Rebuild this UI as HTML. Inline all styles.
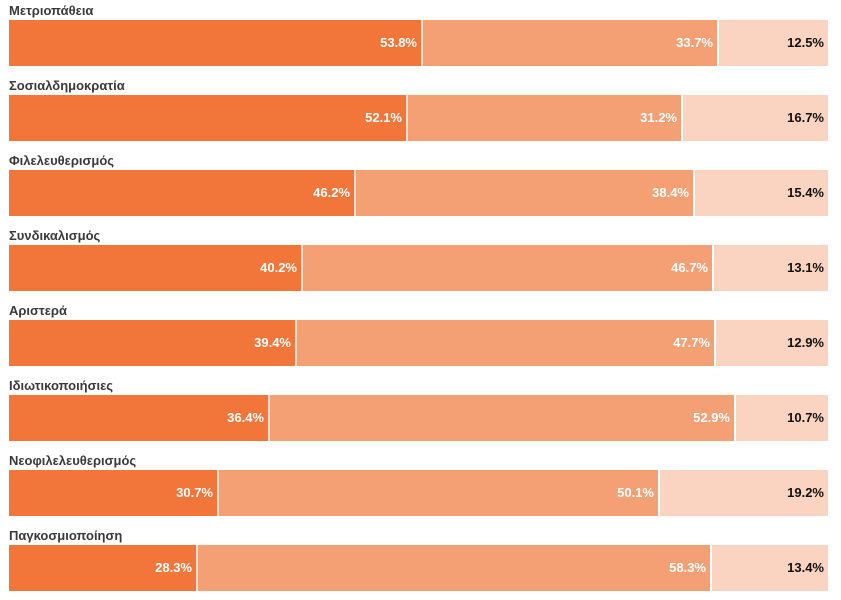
<!DOCTYPE html>
<html><head><meta charset="utf-8"><style>
body{margin:0;width:841px;height:600px;background:#fff;position:relative;overflow:hidden;font-family:"Liberation Sans","DejaVu Sans",sans-serif;}
.l{position:absolute;left:9px;font-size:13px;font-weight:bold;color:#3a3a3a;}
.s{position:absolute;height:46px;box-sizing:border-box;font-size:13px;font-weight:bold;text-align:right;padding-right:4px;line-height:46px;}
.a{background:#f2763a;color:#fff;}
.b{background:#f59f74;color:#fff;border-left:2px solid #fbe0d2;}
.c{background:#fad4c0;color:#111;border-left:2px solid #fff;}
</style></head><body>
<div class="l" style="top:3px">Μετριοπάθεια</div>
<div class="s a" style="top:20px;left:9px;width:412px">53.8%</div>
<div class="s b" style="top:20px;left:421px;width:296px">33.7%</div>
<div class="s c" style="top:20px;left:717px;width:111px">12.5%</div>

<div class="l" style="top:78px">Σοσιαλδημοκρατία</div>
<div class="s a" style="top:95px;left:9px;width:397px">52.1%</div>
<div class="s b" style="top:95px;left:406px;width:275px">31.2%</div>
<div class="s c" style="top:95px;left:681px;width:147px">16.7%</div>

<div class="l" style="top:153px">Φιλελευθερισμός</div>
<div class="s a" style="top:170px;left:9px;width:345px">46.2%</div>
<div class="s b" style="top:170px;left:354px;width:339px">38.4%</div>
<div class="s c" style="top:170px;left:693px;width:135px">15.4%</div>

<div class="l" style="top:228px">Συνδικαλισμός</div>
<div class="s a" style="top:245px;left:9px;width:292px">40.2%</div>
<div class="s b" style="top:245px;left:301px;width:411px">46.7%</div>
<div class="s c" style="top:245px;left:712px;width:116px">13.1%</div>

<div class="l" style="top:303px">Αριστερά</div>
<div class="s a" style="top:320px;left:9px;width:286px">39.4%</div>
<div class="s b" style="top:320px;left:295px;width:419px">47.7%</div>
<div class="s c" style="top:320px;left:714px;width:114px">12.9%</div>

<div class="l" style="top:378px">Ιδιωτικοποιήσιες</div>
<div class="s a" style="top:395px;left:9px;width:259px">36.4%</div>
<div class="s b" style="top:395px;left:268px;width:466px">52.9%</div>
<div class="s c" style="top:395px;left:734px;width:94px">10.7%</div>

<div class="l" style="top:453px">Νεοφιλελευθερισμός</div>
<div class="s a" style="top:470px;left:9px;width:208px">30.7%</div>
<div class="s b" style="top:470px;left:217px;width:441px">50.1%</div>
<div class="s c" style="top:470px;left:658px;width:170px">19.2%</div>

<div class="l" style="top:528px">Παγκοσμιοποίηση</div>
<div class="s a" style="top:545px;left:9px;width:187px">28.3%</div>
<div class="s b" style="top:545px;left:196px;width:514px">58.3%</div>
<div class="s c" style="top:545px;left:710px;width:118px">13.4%</div>
</body></html>
